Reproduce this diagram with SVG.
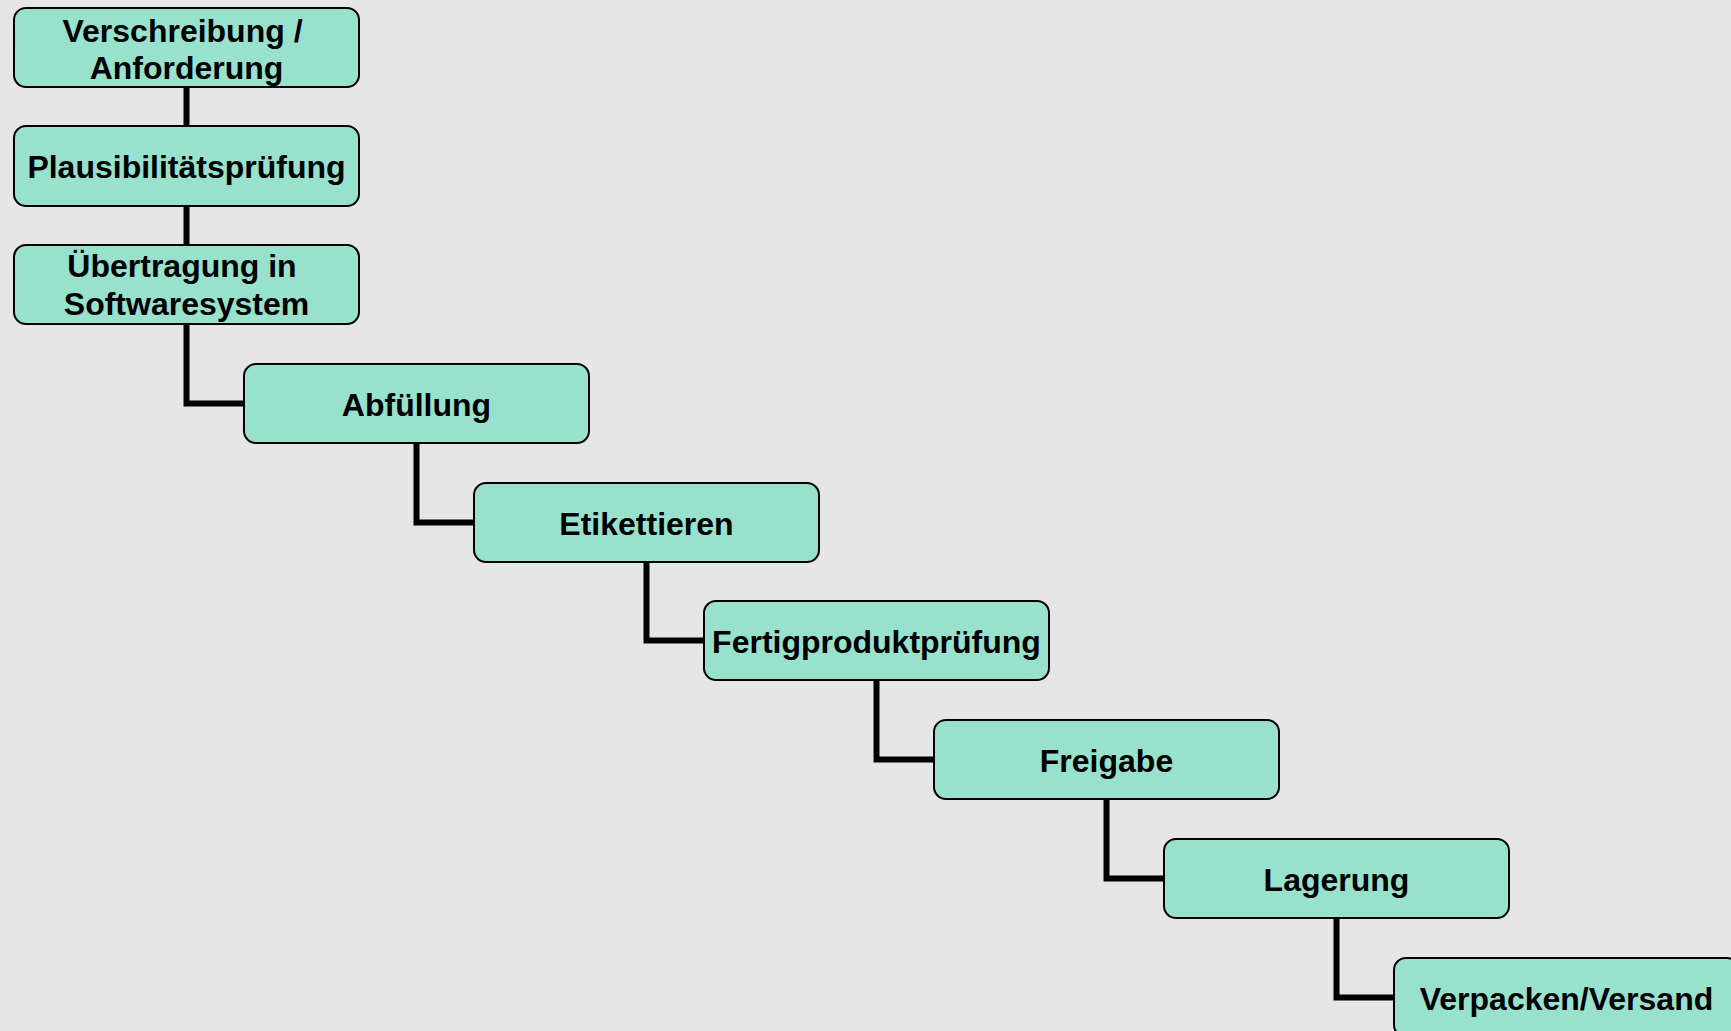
<svg xmlns="http://www.w3.org/2000/svg" width="1731" height="1031" viewBox="0 0 1731 1031">
<style>
.box{fill:#98e1cd;stroke:#000;stroke-width:2}
.lbl{font-family:"Liberation Sans",Arial,sans-serif;font-weight:bold;font-size:32px;fill:#000;text-anchor:middle}
.con{fill:none;stroke:#000;stroke-width:6}
</style>
<rect width="1731" height="1031" fill="#e6e6e6"/>
<g id="connectors">
<path class="con" d="M186.5 87V126"/>
<path class="con" d="M186.5 206V245"/>
<path class="con" d="M186.5 324V403.5H244"/>
<path class="con" d="M416.5 443V522.5H474"/>
<path class="con" d="M646.5 562V640.5H704"/>
<path class="con" d="M876.5 680V759.5H934"/>
<path class="con" d="M1106.5 799V878.5H1164"/>
<path class="con" d="M1336.5 918V997.5H1394"/>
</g>
<g id="n1"><rect class="box" x="14" y="8" width="345" height="79" rx="12"/><text class="lbl" x="182.5" y="41.5">Verschreibung /</text><text class="lbl" x="186.5" y="79">Anforderung</text></g>
<g id="n2"><rect class="box" x="14" y="126" width="345" height="80" rx="12"/><text class="lbl" x="186.5" y="178">Plausibilitätsprüfung</text></g>
<g id="n3"><rect class="box" x="14" y="245" width="345" height="79" rx="12"/><text class="lbl" x="182" y="277">Übertragung in</text><text class="lbl" x="186.5" y="315">Softwaresystem</text></g>
<g id="n4"><rect class="box" x="244" y="364" width="345" height="79" rx="12"/><text class="lbl" x="416.5" y="415.5">Abfüllung</text></g>
<g id="n5"><rect class="box" x="474" y="483" width="345" height="79" rx="12"/><text class="lbl" x="646.5" y="534.5">Etikettieren</text></g>
<g id="n6"><rect class="box" x="704" y="601" width="345" height="79" rx="12"/><text class="lbl" x="876.5" y="652.5">Fertigproduktprüfung</text></g>
<g id="n7"><rect class="box" x="934" y="720" width="345" height="79" rx="12"/><text class="lbl" x="1106.5" y="771.5">Freigabe</text></g>
<g id="n8"><rect class="box" x="1164" y="839" width="345" height="79" rx="12"/><text class="lbl" x="1336.5" y="890.5">Lagerung</text></g>
<g id="n9"><rect class="box" x="1394" y="958" width="345" height="79" rx="12"/><text class="lbl" x="1566.5" y="1009.5">Verpacken/Versand</text></g>
</svg>
